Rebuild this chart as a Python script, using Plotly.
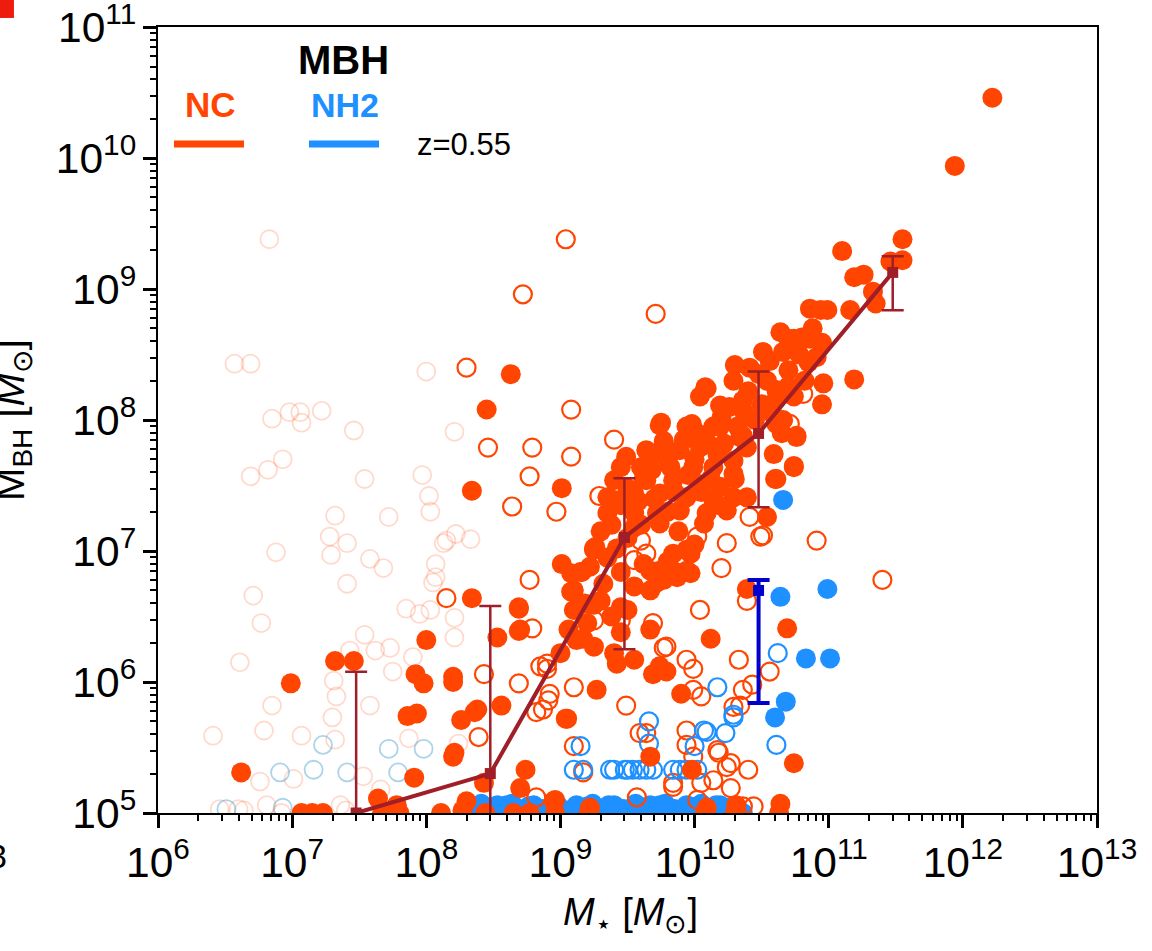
import numpy as np
import plotly.graph_objects as go

# ---------------- data (log10 of stellar mass, log10 of black-hole mass) ----------------
# NC sample, solid markers
nc_fill_lms = [12.22, 11.94, 11.55, 11.10, 11.55, 11.46, 11.19, 11.26, 11.33, 11.35, 10.86, 10.94,
               11.16, 10.99, 10.64, 10.70, 10.80, 10.95, 10.51, 10.30, 10.41, 10.70, 10.85, 11.19,
               10.96, 10.95, 10.09, 10.19, 10.29, 10.36, 10.61, 10.66, 10.76, 10.14, 10.36,
               10.74, 10.86, 10.54, 10.08, 10.04, 10.37, 10.61, 10.74, 9.75, 9.98, 10.19, 10.07,
               10.34, 10.61, 10.76, 10.65, 9.49, 9.64, 9.77, 9.89, 10.04, 10.17, 10.29, 10.39,
               10.59, 10.74, 10.61, 9.45, 9.60, 9.82, 9.99, 10.14, 10.29, 9.40, 9.64, 9.84, 10.04,
               10.19, 10.39, 9.35, 9.55, 9.74, 9.94, 10.14, 10.29, 9.35, 9.55, 9.72, 9.89, 10.09,
               10.24, 10.54, 9.55, 9.74, 10.07, 9.25, 9.84, 9.97, 9.67, 9.94, 9.74, 9.22,
               9.25, 9.45, 9.55, 9.30, 9.45, 9.12, 9.25, 9.40, 9.55, 9.69, 9.00, 9.74, 9.67, 9.77,
               9.87, 9.94, 9.40, 9.69, 9.77, 9.74, 9.94,
               9.01, 9.01, 9.15, 9.10, 9.26, 8.69, 8.70, 9.06, 9.17, 9.42, 9.27, 9.05, 9.45, 9.67,
               9.72, 9.84, 9.97, 9.73, 9.79, 10.12, 9.90, 10.69, 10.74, 9.67, 9.98, 8.74, 8.70,
               8.96, 9.22, 10.09, 10.31, 10.64, 10.60, 10.74, 10.39,
               8.34, 8.69, 8.69, 8.53, 8.20, 8.56, 8.26, 8.36, 8.20, 8.43, 9.08, 9.16, 9.08, 9.25,
               8.95, 8.30, 8.63, 8.45, 8.34, 6.62, 6.99, 7.32, 7.46, 8.00, 7.92, 7.98, 7.86, 7.93,
               7.91, 7.64, 7.78, 8.20, 8.38, 9.04, 8.21,
               9.30, 9.38, 9.45, 9.50, 9.58, 9.62, 9.68, 9.70, 9.80, 9.85, 9.92, 9.95, 10.00, 10.02,
               10.10, 10.12, 10.20, 10.22, 10.26, 10.32, 10.40, 10.45, 10.48, 10.50, 10.56, 10.58,
               10.66, 10.70, 10.78, 10.82, 10.88, 10.91, 9.60, 9.50, 9.42, 9.80, 9.88, 10.05, 10.18,
               10.30, 9.35, 9.62, 9.80, 10.00, 9.10, 9.18, 9.20, 9.32, 9.38, 9.50]
nc_fill_lbh = [10.46, 9.94, 9.38, 9.29, 9.22, 9.21, 9.09, 9.11, 8.98, 8.89, 8.85, 8.84,
               8.84, 8.84, 8.67, 8.62, 8.63, 8.59, 8.52, 8.42, 8.40, 8.38, 8.44, 8.31,
               8.28, 8.12, 8.24, 8.11, 8.30, 8.15, 8.23, 8.00, 7.88, 7.95, 7.88,
               8.62, 8.62, 8.30, 8.25, 8.18, 8.06, 8.16, 8.18, 7.98, 7.97, 7.95, 7.88,
               7.87, 7.97, 7.87, 7.90, 7.72, 7.77, 7.82, 7.77, 7.79, 7.74, 7.69, 7.79,
               7.74, 7.65, 7.55, 7.64, 7.64, 7.64, 7.64, 7.64, 7.59, 7.54, 7.54, 7.54, 7.51,
               7.49, 7.41, 7.41, 7.44, 7.44, 7.41, 7.39, 7.41, 7.29, 7.29, 7.29, 7.31, 7.29,
               7.31, 7.26, 7.18, 7.21, 7.21, 7.01, 6.98, 6.98, 6.85, 6.85, 6.85, 6.88,
               6.59, 6.84, 6.73, 6.62, 6.57, 6.32, 6.27, 6.22, 6.17, 6.06, 6.22, 6.12, 6.70, 6.78,
               6.80, 7.01, 7.39, 7.74, 7.84, 7.96, 7.95,
               7.48, 6.90, 6.84, 6.70, 7.03, 6.56, 6.40, 6.40, 6.33, 6.14, 5.94, 5.72, 6.38, 6.40,
               6.76, 6.85, 6.83, 6.09, 6.08, 6.33, 5.91, 6.41, 5.38, 5.43, 5.33, 5.33, 5.19,
               5.10, 5.04, 5.04, 5.06, 5.07, 7.55, 7.64, 6.71,
               6.64, 6.57, 6.39, 6.34, 6.04, 5.82, 5.71, 5.77, 5.43, 5.23, 6.83, 6.84, 6.69, 7.02,
               5.09, 5.09, 8.35, 8.08, 7.46, 5.31, 5.99, 6.16, 6.16, 6.32, 6.06, 5.99, 5.74, 5.76,
               5.27, 5.11, 5.06, 6.00, 5.79, 5.72, 5.46,
               7.15, 7.20, 7.35, 7.48, 7.38, 7.55, 7.62, 7.40, 7.70, 7.45, 7.85, 7.58, 7.70, 7.90,
               7.82, 7.55, 8.02, 7.82, 8.10, 7.95, 8.22, 8.00, 8.35, 8.12, 8.45, 8.05,
               8.52, 8.26, 8.50, 8.30, 8.70, 8.48, 7.20, 7.10, 7.02, 7.30, 7.15, 7.45, 7.35,
               7.55, 6.95, 6.90, 6.92, 7.05, 6.55, 6.60, 6.45, 6.75, 6.50, 6.55]

# NC galaxies sitting on the seed-mass floor
nc_floor_lms = [7.07, 7.15, 7.23, 7.67, 7.80, 8.11, 8.27, 8.44, 8.65, 8.77, 8.96, 9.21, 10.08, 10.30, 10.63]
nc_floor_lbh = [5.00, 5.00, 5.00, 5.00, 5.00, 5.00, 5.02, 5.00, 5.00, 5.00, 5.00, 5.00, 5.00, 5.00, 5.00]

# NC sample, open markers
nc_open_lms = [9.04, 8.72, 9.71, 8.30, 9.08, 8.46, 8.79, 9.08, 9.40, 8.77, 8.64, 8.97, 9.29, 8.15,
               8.43, 8.39, 8.69, 8.77, 8.79, 8.90, 9.10, 8.91, 8.82, 9.10, 9.17, 10.24, 10.20, 10.51,
               10.91, 11.40, 10.04, 10.39, 9.77, 10.33, 10.43, 10.56, 9.99, 8.92, 9.49, 10.05, 10.34,
               9.94, 10.18, 10.24, 10.40, 10.05, 10.27, 9.59, 10.36, 9.84, 8.82, 8.85, 8.87, 9.60,
               9.64, 9.55, 10.02, 9.45, 9.25, 9.79, 8.90, 9.94, 9.69, 9.64, 9.94, 9.99, 10.17,
               10.27, 9.84, 10.14, 10.44, 10.02, 9.57, 10.29, 10.36, 9.99, 10.41, 10.71, 10.81,
               10.49]
nc_open_lbh = [9.38, 8.96, 8.81, 8.40, 8.08, 7.79, 7.79, 7.72, 7.85, 7.57, 7.34, 7.30, 7.42, 6.64,
               6.06, 5.58, 5.99, 6.78, 6.41, 6.10, 5.96, 5.86, 5.77, 5.51, 5.31, 7.06, 6.87, 7.12,
               7.08, 6.78, 6.55, 6.62, 6.26, 6.17, 5.98, 6.08, 6.10, 5.91, 5.82, 5.89, 5.82,
               5.63, 5.46, 5.35, 5.33, 5.23, 5.19, 5.61, 5.05, 5.20, 5.12, 6.12, 5.79, 7.08,
               6.98, 6.93, 7.11, 6.47, 6.47, 6.27, 6.14, 6.17, 6.45, 5.61, 5.52, 5.43, 5.48,
               5.38, 5.23, 5.25, 5.05, 5.10, 5.12, 5.81, 5.94, 5.94, 7.26, 7.97, 8.20,
               7.11]

# NC sample, poorly resolved hosts (faint open markers)
nc_faint_lms = [6.83, 6.57, 6.69, 8.00, 6.85, 6.98, 7.06, 7.07, 7.22, 7.46, 8.21, 6.93, 6.82, 6.69,
                7.54, 7.97, 8.02, 8.03, 7.32, 7.72, 6.88, 7.28, 7.41, 7.29, 7.58, 7.68, 8.07, 8.13,
                7.41, 6.71, 6.77, 8.05, 7.85, 7.95, 7.54, 7.62, 7.73, 7.43, 6.61, 7.31, 7.33, 7.30,
                6.85, 6.79, 6.41, 7.07, 7.32, 7.58, 7.75, 7.90, 7.87, 6.76, 7.01, 7.53, 6.64, 6.81,
                7.36, 7.66, 8.21, 8.21, 8.03, 8.24, 8.15, 8.22, 8.33, 8.07, 6.46, 6.60, 6.92, 7.40]
nc_faint_lbh = [9.38, 8.43, 8.43, 8.37, 8.01, 8.06, 8.06, 7.98, 8.07, 7.92, 7.91, 7.70, 7.62, 7.57,
                7.55, 7.58, 7.42, 7.30, 7.27, 7.26, 6.99, 7.11, 7.06, 6.97, 6.94, 6.87, 6.90, 7.06,
                6.75, 6.66, 6.45, 6.76, 6.56, 6.52, 6.36, 6.24, 6.26, 6.24, 6.15, 6.01, 5.89, 5.73,
                5.82, 5.63, 5.59, 5.59, 5.56, 5.82, 6.08, 6.19, 5.57, 5.24, 5.26, 5.28, 5.02, 5.06,
                5.06, 5.18, 6.49, 6.34, 6.55, 5.53, 7.08, 7.13, 7.09, 6.80, 5.03, 5.03, 5.00, 5.02]

# NH2 sample
nh2_fill_lms = [10.66, 10.64, 10.99, 10.83, 11.01, 10.68, 10.60]
nh2_fill_lbh = [7.39, 6.65, 6.71, 6.18, 6.18, 5.85, 5.73]

nh2_open_lms = [10.62, 10.17, 10.29, 10.07, 10.23, 9.66, 9.66, 9.15, 10.00, 10.61, 9.10, 9.17, 9.37,
                9.40, 9.48, 9.50, 9.54, 9.59, 9.64, 9.69, 9.84, 9.89, 9.94, 10.02, 10.09, 10.29]
nh2_open_lbh = [6.22, 5.96, 5.75, 5.63, 5.61, 5.70, 5.53, 5.51, 5.51, 5.52, 5.33, 5.33, 5.33,
                5.33, 5.33, 5.33, 5.33, 5.33, 5.33, 5.33, 5.33, 5.33, 5.33, 5.33, 5.62, 5.73]

nh2_faint_lms = [7.23, 7.72, 7.98, 6.91, 7.16, 7.41, 7.79, 6.51, 6.93]
nh2_faint_lbh = [5.52, 5.49, 5.49, 5.31, 5.33, 5.31, 5.31, 5.03, 5.04]

# NH2 galaxies on the seed-mass floor
nh2_floor_lms = [8.32, 8.37, 8.45, 8.49, 8.56, 8.60, 8.67, 8.71, 8.76, 8.84, 8.87, 8.93, 8.98, 9.05,
                 9.09, 9.16, 9.20, 9.27, 9.31, 9.36, 9.43, 9.47, 9.52, 9.59, 9.63, 9.70, 9.74, 9.81,
                 9.85, 9.90, 9.97, 10.01, 10.08, 10.12, 10.19, 10.24, 10.31, 10.36,
                 8.41, 8.53, 8.64, 8.80, 8.95, 9.12, 9.24, 9.40, 9.56, 9.67, 9.78, 9.94, 10.05, 10.16,
                 10.28]
nh2_floor_lbh = [5.00, 5.05, 5.00, 5.03, 5.00, 5.06, 5.01, 5.00, 5.05, 5.00, 5.03, 5.00, 5.06, 5.00,
                 5.03, 5.00, 5.05, 5.01, 5.00, 5.06, 5.00, 5.03, 5.00, 5.05, 5.01, 5.00, 5.06, 5.00,
                 5.03, 5.00, 5.05, 5.00, 5.03, 5.00, 5.06, 5.00, 5.02, 5.00,
                 5.07, 5.06, 5.07, 5.06, 5.07, 5.06, 5.07, 5.06, 5.07, 5.06, 5.07, 5.06, 5.07, 5.06,
                 5.05]

# binned medians with percentile ranges
nc_bin_ms = [3e7, 3e8, 3e9, 3e10, 3e11]
nc_bin_med = [1.0e5, 2.0e5, 1.27e7, 7.9e7, 1.34e9]
nc_bin_hi = [1.2e6, 3.8e6, 3.6e7, 2.35e8, 1.78e9]
nc_bin_lo = [1.0e4, 1.0e4, 1.78e6, 2.16e7, 6.9e8]

nh2_bin_ms = [3e10]
nh2_bin_med = [5.0e6]
nh2_bin_hi = [6.0e6]
nh2_bin_lo = [6.9e5]

# ---------------- styling ----------------
C_NC = "#FF4500"
C_NH2 = "#1E90FF"
C_NC_FAINT = "rgba(255,69,0,0.2)"
C_NH2_FAINT = "rgba(70,160,205,0.45)"
C_MED = "#A01E28"
C_MED2 = "#0000CD"
FONT = "Liberation Sans, Arial, Helvetica, sans-serif"


def lin(a):
    return 10 ** np.asarray(a, dtype=float)


fig = go.Figure()


def add_pts(lms, lbh, color, filled, size=20, lw=2.2):
    if filled:
        marker = dict(size=size, color=color, line=dict(width=0))
    else:
        marker = dict(size=size - 2, color="rgba(0,0,0,0)", line=dict(width=lw, color=color))
    fig.add_trace(go.Scatter(x=lin(lms), y=lin(lbh), mode="markers", marker=marker,
                             showlegend=False, hoverinfo="skip", cliponaxis=True))


add_pts(nc_faint_lms, nc_faint_lbh, C_NC_FAINT, False, lw=1.8)
add_pts(nh2_faint_lms, nh2_faint_lbh, C_NH2_FAINT, False, lw=1.8)
add_pts(nh2_floor_lms, nh2_floor_lbh, C_NH2, True)
add_pts(nc_open_lms, nc_open_lbh, C_NC, False)
add_pts(nh2_open_lms, nh2_open_lbh, C_NH2, False)
add_pts(nc_fill_lms, nc_fill_lbh, C_NC, True)
add_pts(nc_floor_lms, nc_floor_lbh, C_NC, True)
add_pts(nh2_fill_lms, nh2_fill_lbh, C_NH2, True)


def add_bins(xs, med, hi, lo, color, lw, ew):
    med = np.asarray(med)
    fig.add_trace(go.Scatter(
        x=xs, y=med, mode="lines+markers",
        line=dict(color=color, width=lw),
        marker=dict(symbol="square", size=11, color=color),
        error_y=dict(type="data", symmetric=False,
                     array=np.asarray(hi) - med, arrayminus=med - np.asarray(lo),
                     color=color, thickness=ew, width=11),
        showlegend=False, hoverinfo="skip", cliponaxis=True))


add_bins(nc_bin_ms, nc_bin_med, nc_bin_hi, nc_bin_lo, C_MED, 4, 2.5)
add_bins(nh2_bin_ms, nh2_bin_med, nh2_bin_hi, nh2_bin_lo, C_MED2, 4, 4)

axis_common = dict(
    type="log", dtick=1, exponentformat="power", showexponent="all",
    showgrid=False, zeroline=False, automargin=False,
    showline=True, linewidth=2, linecolor="black", mirror=True,
    ticks="outside", ticklen=13, tickwidth=2.5, tickcolor="black",
    ticklabeloverflow="allow",
    tickfont=dict(family=FONT, size=34, color="black"),
    minor=dict(dtick="D1", ticks="outside", ticklen=6, tickwidth=1.6,
               tickcolor="black", showgrid=False),
)

fig.update_layout(
    width=1152, height=951,
    margin=dict(l=158, r=55, t=27, b=138, autoexpand=False),
    paper_bgcolor="white", plot_bgcolor="white",
    font=dict(family=FONT, color="black"),
    xaxis=dict(range=[6, 13], **axis_common),
    yaxis=dict(range=[5, 11.0005], **axis_common),
)

# legend block drawn inside the axes
fig.add_shape(type="line", xref="paper", yref="paper", x0=0.017, x1=0.0916, y0=0.851, y1=0.851,
              line=dict(color=C_NC, width=7))
fig.add_shape(type="line", xref="paper", yref="paper", x0=0.1608, x1=0.2354, y0=0.851, y1=0.851,
              line=dict(color=C_NH2, width=7))

ann = [
    dict(text="<b>MBH</b>", x=0.198, y=0.958, font=dict(size=40, color="black")),
    dict(text="<b>NC</b>", x=0.0554, y=0.9008, font=dict(size=35, color=C_NC)),
    dict(text="<b>NH2</b>", x=0.199, y=0.9008, font=dict(size=34, color=C_NH2)),
    dict(text="z=0.55", x=0.2737, y=0.85, xanchor="left", font=dict(size=31, color="black")),
    dict(text="<i>M</i><sub>⋆</sub> [<i>M</i><sub>⊙</sub>]", x=0.5027, y=-0.13,
         font=dict(size=38, color="black")),
    dict(text="M<sub>BH</sub> [<i>M</i><sub>⊙</sub>]", x=-0.1545, y=0.5, textangle=-90,
         font=dict(size=40, color="black")),
    dict(text="3", x=-0.159, y=-0.0547, xanchor="right", font=dict(size=34, color="black")),
]
for a in ann:
    a.setdefault("xanchor", "center")
    fig.add_annotation(xref="paper", yref="paper", showarrow=False, yanchor="middle",
                       font_family=FONT, **a)

# panel marker in the corner
fig.add_shape(type="rect", xref="paper", yref="paper", x0=-0.1683, x1=-0.1534, y0=1.0115, y1=1.0344,
              fillcolor="#EE1C0E", line=dict(width=0))

fig.write_html("out.html")
